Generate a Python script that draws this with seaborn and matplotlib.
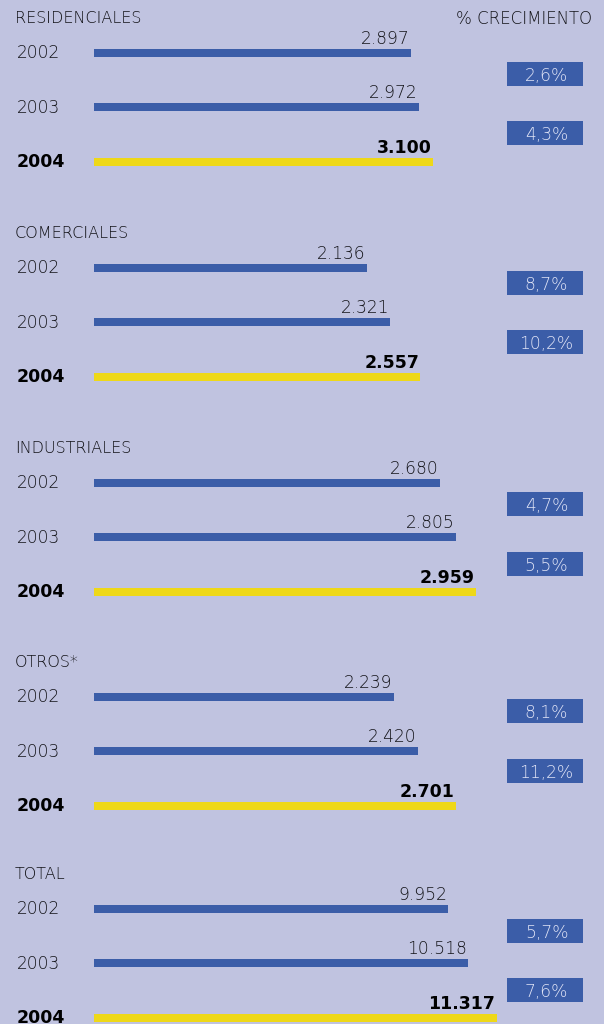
import numpy as np
import pandas as pd
import matplotlib
matplotlib.use("Agg")
import matplotlib.pyplot as plt
import matplotlib.transforms as mtransforms
from matplotlib.patches import Rectangle
import seaborn as sns

# Datos
grupos = ["RESIDENCIALES", "COMERCIALES", "INDUSTRIALES", "OTROS*", "TOTAL"]
anios = ["2002", "2003", "2004"]
residenciales = [2897, 2972, 3100]
comerciales = [2136, 2321, 2557]
industriales = [2680, 2805, 2959]
otros = [2239, 2420, 2701]
total = [9952, 10518, 11317]
crec_residenciales = ["2,6%", "4,3%"]
crec_comerciales = ["8,7%", "10,2%"]
crec_industriales = ["4,7%", "5,5%"]
crec_otros = ["8,1%", "11,2%"]
crec_total = ["5,7%", "7,6%"]

series = [residenciales, comerciales, industriales, otros, total]
crecimientos = [crec_residenciales, crec_comerciales, crec_industriales, crec_otros, crec_total]

# Estilo / maquetacion (pixeles)
FONDO = "#c0c3e0"
AZUL = "#3b5da8"
AMARILLO = "#eed818"
TEXTO = "#141419"
TEXTO_CAJA = "#e2e5f7"
W, H = 604, 1024
X0 = 94            # inicio de las barras
FILA = 54.25       # separacion entre barras
centros_2002 = [53, 268, 483, 697, 909]
xmax = [4660, 3995, 3955, 3805, 14330]
caja_y = [(0.38, 1.47), (0.27, 1.37), (0.39, 1.49), (0.26, 1.36), (0.41, 1.49)]

sns.set_theme(style="white")
plt.rcParams['font.family'] = ['DejaVu Sans']
NEGRITA = dict(fontweight="bold", color="black", fontsize=12.5)
FINA = dict(fontweight="light", color=TEXTO, fontsize=12.3)

fig = plt.figure(figsize=(W / 100, H / 100), dpi=100, facecolor=FONDO)

for g, (nombre, valores, crec) in enumerate(zip(grupos, series, crecimientos)):
    c = centros_2002[g]
    top = c - FILA / 2
    ax = fig.add_axes([X0 / W, 1 - (top + 3 * FILA) / H, (W - X0) / W, 3 * FILA / H])
    df = pd.DataFrame({"anio": anios, "valor": valores})
    alto = 8 / FILA
    sns.barplot(data=df, x="valor", y="anio", hue="anio", orient="h",
                palette=[AZUL, AZUL, AMARILLO], legend=False, width=alto,
                saturation=1, linewidth=0, ax=ax)
    ax.set_xlim(0, xmax[g])
    ax.set_ylim(2.5, -0.5)
    ax.set_axis_off()

    # etiquetas de valor sobre cada barra
    for i, v in enumerate(valores):
        txt = f"{v:,}".replace(",", ".")
        estilo = NEGRITA if i == 2 else FINA
        ax.annotate(txt, xy=(v, i - alto / 2), xytext=(-1, 3.5), textcoords="offset points",
                    ha="right", va="baseline", **estilo)

    # etiquetas de anio
    tr = mtransforms.blended_transform_factory(fig.transFigure, ax.transData)
    for i, a in enumerate(anios):
        estilo = NEGRITA if i == 2 else FINA
        ax.text(17 / W, i - 0.03, a, transform=tr, ha="left", va="center_baseline", **estilo)

    # cajas de % crecimiento
    trb = mtransforms.blended_transform_factory(ax.transAxes, ax.transData)
    hb = 24 / FILA
    xa = (507 - X0) / (W - X0)
    wb = 76 / (W - X0)
    for yc, t in zip(caja_y[g], crec):
        ax.add_patch(Rectangle((xa, yc - hb / 2), wb, hb, transform=trb,
                               facecolor=AZUL, edgecolor="none", clip_on=False))
        ax.text(xa + wb / 2 + 0.003, yc, t, transform=trb, ha="center", va="center_baseline",
                fontsize=12.3, fontweight="light", color=TEXTO_CAJA)

    # titulo del grupo
    fig.text(15 / W, 1 - (c - 36) / H, nombre, ha="left", va="center_baseline",
             fontsize=11.5, fontweight="light", color=TEXTO)

fig.text(592 / W, 1 - 17 / H, "% CRECIMIENTO", ha="right", va="center_baseline",
         fontsize=12, fontweight="light", color=TEXTO)

fig.savefig("out.png", dpi=100, facecolor=FONDO)
